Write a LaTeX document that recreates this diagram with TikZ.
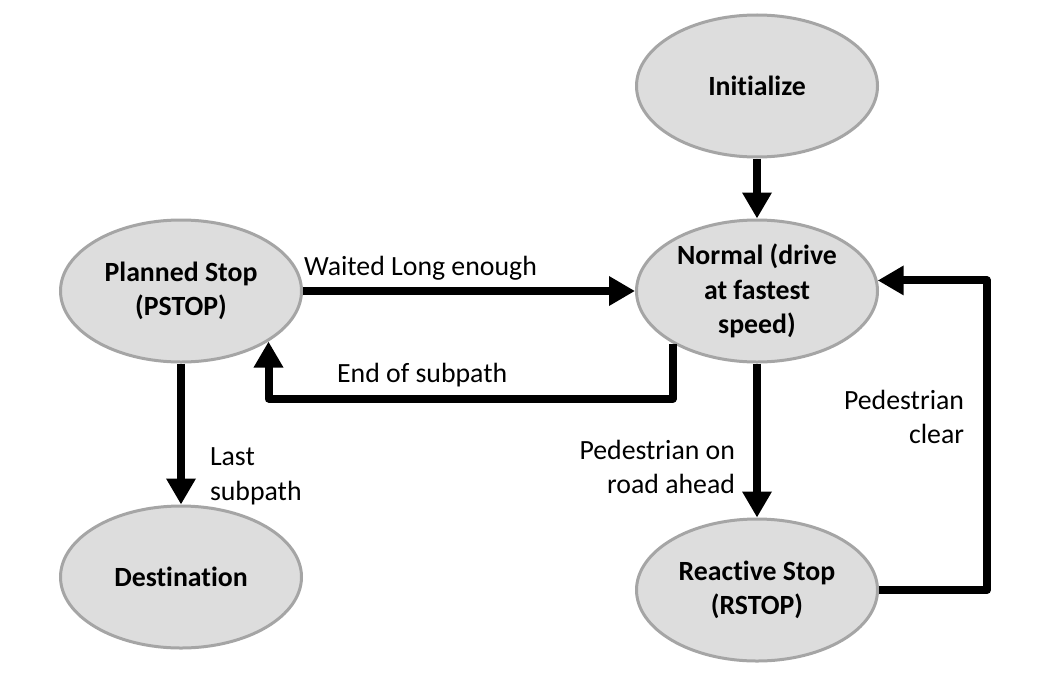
\documentclass[tikz,border=0pt]{standalone}
\usepackage{fontspec}
\setmainfont[Ligatures=NoCommon]{Carlito}
\usetikzlibrary{arrows.meta,shapes.geometric}

\definecolor{statefill}{HTML}{DDDDDD}
\definecolor{stateline}{HTML}{A5A5A5}
\def\txtsize{\fontsize{13.9}{17.2}\selectfont}

\tikzset{
  state/.style={ellipse, draw=stateline, fill=statefill, line width=1.5pt,
    minimum width=120.5pt, minimum height=71pt, inner sep=0pt, align=center,
    font=\bfseries\txtsize},
  trans/.style={line width=4pt, line join=round, -{Triangle[length=13pt,width=14pt]}},
  lbl/.style={inner sep=0pt, font=\txtsize}
}

\begin{document}
\begin{tikzpicture}[x=0.5pt,y=-0.5pt]
  \useasboundingbox (0,0) rectangle (1052,674);
  \node[state] (init) at (757,86) {Initialize};
  \node[state] (normal) at (757,291) {Normal (drive\\at fastest\\speed)};
  \node[state] (pstop) at (181,291) {Planned Stop\\(PSTOP)};
  \node[state] (dest) at (181,577) {Destination};
  \node[state] (rstop) at (757,590) {Reactive Stop\\(RSTOP)};

  \draw[trans] (init) -- (normal);
  \draw[trans] (pstop) -- (normal)
    node[lbl, pos=0, anchor=base west, shift={(-3,-16)}] {Waited Long enough};
  \draw[trans] (normal.212) -- ++(0,55) -|
    node[lbl, pos=0.31, anchor=base, shift={(0,-16)}] {End of subpath} (pstop.330);
  \draw[trans] (pstop) -- (dest)
    node[lbl, pos=0.8, anchor=west, align=left, shift={(25,0)}] {Last\\subpath};
  \draw[trans] (normal) -- (rstop)
    node[lbl, pos=0.67, anchor=east, align=right, shift={(-18,0)}] {Pedestrian on\\road ahead};
  \draw[trans] (rstop) -- ++(230,0) |-
    node[lbl, pos=0.28, anchor=east, align=right, shift={(-19,0)}] {Pedestrian\\clear} (normal.5);
\end{tikzpicture}
\end{document}
